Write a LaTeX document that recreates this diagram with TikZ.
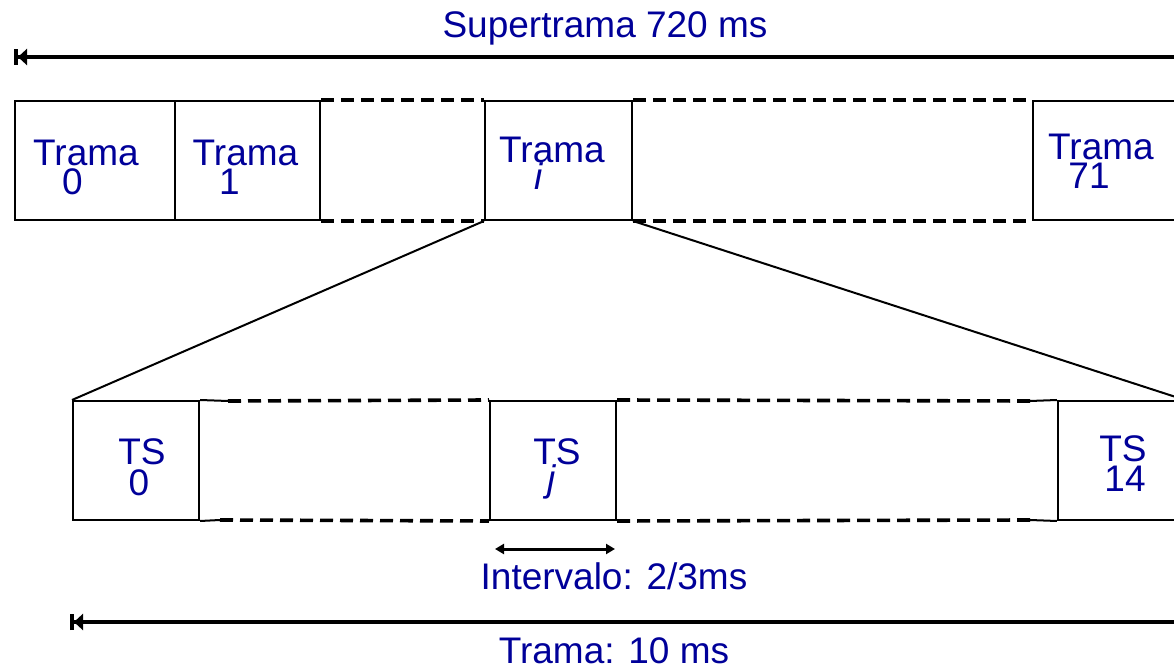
\documentclass[tikz,border=0pt]{standalone}
\usepackage{fontspec}
\setmainfont{Liberation Sans}
\usetikzlibrary{arrows.meta}
\definecolor{labelblue}{RGB}{0,0,153}

\tikzset{
  lbl/.style={text=labelblue, font=\fontsize{18.5}{18.5}\selectfont},
  slot/.style={rectangle, draw, line width=1pt, minimum height=59.5pt},
  gap/.style={line width=1.8pt, dash pattern=on 6.5pt off 3.5pt},
  span/.style={line width=2pt, {Bar[width=8pt,line width=2pt]Triangle[length=4.5pt,width=8pt]}-}
}

\begin{document}
\begin{tikzpicture}[x=0.5pt,y=-0.5pt]
        \useasboundingbox (0,0) rectangle (1174,668);

        % frames of the superframe
        \begin{scope}[every node/.style={slot}]
          \node[minimum width=80pt]   (f0)  at (95,160.5)   {};
          \node[minimum width=72.5pt] (f1)  at (247.5,160.5) {};
          \node[minimum width=73.5pt] (fi)  at (558.5,160.5) {};
          \node[minimum width=73.5pt] (f71) at (1106.5,160.5) {};
        \end{scope}

        % time slots of frame i
        \begin{scope}[every node/.style={slot, minimum width=63pt}]
          \node (ts0)  at (136,460.5)  {};
          \node (tsj)  at (553,460.5)  {};
          \node (ts14) at (1121,460.5) {};
        \end{scope}

        \begin{scope}[every node/.style={lbl, anchor=base, inner sep=0pt}]
          \node (f0a)  at (86,166)   {Trama};
          \node (f0b)  at (72.5,195) {0};
          \node (f1a)  at (245.5,166) {Trama};
          \node (f1b)  at (229.5,195) {1};
          \node (fia)  at (552,163)  {Trama};
          \node (fib)  at (539,190)  {\itshape i};
          \node (f71a) at (1101,160) {Trama};
          \node (f71b) at (1089,189) {71};
          \node (ts0a)  at (142,465)  {TS};
          \node (ts0b)  at (139,495)  {0};
          \node (tsja)  at (557,465)  {TS};
          \node (tsjb)  at (552,492)  {\itshape j};
          \node (ts14a) at (1123,462) {TS};
          \node (ts14b) at (1125,492) {14};

          \node (sup) at (605,38)  {Supertrama 720 ms};
          \node (int) at (614,589) {Intervalo: 2/3ms};
          \node (dur) at (614,663) {Trama: 10 ms};
        \end{scope}

        \coordinate (s1) at (228,401);
        \coordinate (s2) at (220,520);
        \coordinate (s3) at (1030,401);
        \coordinate (s4) at (1030,520);

        \draw[gap] (f1.north east) -- (fi.north west);
        \draw[gap] (f1.south east) -- (fi.south west);
        \draw[gap] (fi.north east) -- (f71.north west);
        \draw[gap] (fi.south east) -- (f71.south west);

        \draw[line width=1pt] (ts0.north east) -- (s1);
        \draw[line width=1pt] (ts0.south east) -- (s2);
        \draw[gap] (s1) -- (tsj.north west);
        \draw[gap] (s2) -- (tsj.south west);
        \draw[gap] (tsj.north east) -- (s3);
        \draw[gap] (tsj.south east) -- (s4);
        \draw[line width=1pt] (s3) -- (ts14.north west);
        \draw[line width=1pt] (s4) -- (ts14.south west);

        % zoom lines
        \draw[line width=1pt] (fi.south west) -- (ts0.north west);
        \draw[line width=1pt] (fi.south east) -- (ts14.north east);

        \coordinate (supL) at (14,57);
        \coordinate (supR) at (1180,57);
        \coordinate (durL) at (70,622);
        \coordinate (durR) at (1180,622);
        \coordinate (intL) at (495,549);
        \coordinate (intR) at (615,549);

        \draw[span] (supL) -- (supR);
        \draw[span] (durL) -- (durR);
        \draw[line width=1.5pt, {Triangle[length=4.5pt,width=5pt]}-{Triangle[length=4.5pt,width=5pt]}] (intL) -- (intR);

      \end{tikzpicture}
\end{document}
